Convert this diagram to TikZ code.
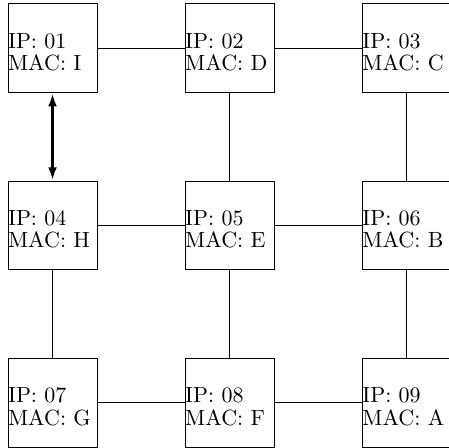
\documentclass[tikz,border=0pt]{standalone}
\usepackage{tikz}
\usetikzlibrary{arrows.meta}
\tikzset{sw/.style={draw,minimum size=1.42cm,inner sep=0pt,text width=1.42cm,align=left,
   text height=12pt,text depth=12pt,font=\fontsize{10}{10.2}\selectfont},
 wire/.style={thin},link/.style={{Latex[length=6pt,width=4pt]}-{Latex[length=6pt,width=4pt]},line width=1.3pt}}
\begin{document}
\begin{tikzpicture}[x=2.83cm,y=2.83cm]
\useasboundingbox(-0.839cm,0.771cm)rectangle(6.334cm,-6.385cm);
\node[sw](n1) at(0,0){IP: 01\\MAC: I};
\node[sw](n2) at(1,0){IP: 02\\MAC: D};
\node[sw](n3) at(2,0){IP: 03\\MAC: C};
\node[sw](n4) at(0,-1){IP: 04\\MAC: H};
\node[sw](n5) at(1,-1){IP: 05\\MAC: E};
\node[sw](n6) at(2,-1){IP: 06\\MAC: B};
\node[sw](n7) at(0,-2){IP: 07\\MAC: G};
\node[sw](n8) at(1,-2){IP: 08\\MAC: F};
\node[sw](n9) at(2,-2){IP: 09\\MAC: A};
\draw[wire](n1)--(n2);\draw[wire](n2)--(n3);
\draw[wire](n4)--(n5);\draw[wire](n5)--(n6);
\draw[wire](n7)--(n8);\draw[wire](n8)--(n9);
\draw[wire](n2)--(n5);\draw[wire](n3)--(n6);
\draw[wire](n4)--(n7);\draw[wire](n5)--(n8);\draw[wire](n6)--(n9);
\draw[link](n1)--(n4);
\end{tikzpicture}
\end{document}
